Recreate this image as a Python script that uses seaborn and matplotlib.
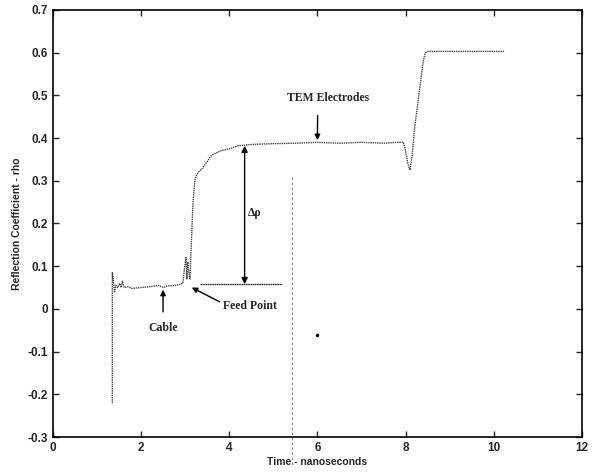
import matplotlib
matplotlib.use("Agg")
import matplotlib.pyplot as plt
import seaborn as sns
import pandas as pd

# ==========================
# Data
# ==========================

time_ns = [1.35, 1.35, 1.37, 1.40, 1.43, 1.47, 1.52, 1.55, 1.58, 1.62, 1.70,
           1.80, 2.00, 2.20, 2.40, 2.50, 2.60, 2.80, 2.90, 2.95, 2.98, 3.02,
           3.04, 3.06, 3.08, 3.11, 3.14, 3.18, 3.22, 3.25, 3.30, 3.40, 3.50,
           3.60, 3.80, 4.00, 4.20, 4.50, 5.00, 5.50, 6.00, 6.50, 7.00, 7.50,
           7.80, 7.95, 8.00, 8.05, 8.10, 8.15, 8.20, 8.30, 8.40, 8.45, 8.50,
           9.00, 9.50, 10.00, 10.25]
rho = [-0.22, 0.085, 0.07, 0.04, 0.055, 0.05, 0.06, 0.05, 0.065, 0.05, 0.052,
       0.048, 0.05, 0.052, 0.055, 0.05, 0.054, 0.055, 0.058, 0.06, 0.09, 0.12,
       0.07, 0.11, 0.09, 0.07, 0.15, 0.25, 0.30, 0.31, 0.32, 0.33, 0.345,
       0.36, 0.37, 0.375, 0.382, 0.385, 0.387, 0.388, 0.39, 0.388, 0.39, 0.388,
       0.39, 0.39, 0.37, 0.34, 0.325, 0.36, 0.42, 0.50, 0.58, 0.60, 0.603,
       0.603, 0.603, 0.603, 0.603]

feed_level = 0.058
feed_span = [3.33, 5.2]
electrode_level = 0.382
delta_x = 4.35

x_ticks = [0, 2, 4, 6, 8, 10, 12]
y_ticks = [-0.3, -0.2, -0.1, 0, 0.1, 0.2, 0.3, 0.4, 0.5, 0.6, 0.7]
y_tick_labels = ["-0.3", "-0.2", "-0.1", "0", "0.1", "0.2", "0.3", "0.4",
                 "0.5", "0.6", "0.7"]

df = pd.DataFrame({"t": time_ns, "rho": rho})

# ==========================
# Plot
# ==========================

sns.set_style("ticks")
plt.rcParams["font.family"] = ["Liberation Sans", "DejaVu Sans"]

fig = plt.figure(figsize=(6, 4.75), dpi=100)
ax = fig.add_axes([0.088, 0.08, 0.882, 0.899])

sns.lineplot(data=df, x="t", y="rho", ax=ax, color="#444444",
             linewidth=1.0, linestyle=(0, (1, 0.6)), sort=False,
             estimator=None, errorbar=None)

# feed point reference level
ax.plot(feed_span, [feed_level, feed_level], color="#333333", linewidth=1.0,
        linestyle=(0, (1, 0.3)))

# delta rho arrow
ax.annotate("", xy=(delta_x, electrode_level), xytext=(delta_x, feed_level),
            arrowprops=dict(arrowstyle="<|-|>", color="black", lw=1.0,
                            mutation_scale=9, shrinkA=0, shrinkB=0))

serif = dict(family="Liberation Serif", fontsize=8.5, fontweight="bold")

ax.text(4.58, 0.225, "Δρ", ha="center", va="center", **serif)

ax.annotate("TEM Electrodes", xy=(6.0, 0.395), xytext=(6.25, 0.494),
            ha="center", va="center",
            arrowprops=dict(arrowstyle="-|>", color="black", lw=1.0,
                            mutation_scale=8, shrinkA=6, shrinkB=0,
                            relpos=(0.37, 0)),
            **serif)

ax.annotate("Cable", xy=(2.5, 0.045), xytext=(2.5, -0.045),
            ha="center", va="center",
            arrowprops=dict(arrowstyle="-|>", color="black", lw=1.0,
                            mutation_scale=8, shrinkA=5, shrinkB=0),
            **serif)

ax.annotate("Feed Point", xy=(3.15, 0.05), xytext=(4.47, 0.007),
            ha="center", va="center",
            arrowprops=dict(arrowstyle="-|>", color="black", lw=1.0,
                            mutation_scale=8, shrinkA=0, shrinkB=0,
                            relpos=(0.0, 0.7)),
            **serif)

# faint scanner streak
ax.plot([5.42, 5.42], [0.31, -0.37], color="#666666", linewidth=0.6,
        linestyle=(0, (3, 3)), clip_on=False)
ax.plot([6.0], [-0.06], marker="o", markersize=1.5, color="black")

ax.set_xlim(0, 12)
ax.set_ylim(-0.3, 0.7)
ax.set_xticks(x_ticks)
ax.set_yticks(y_ticks)
ax.set_yticklabels(y_tick_labels)

ax.tick_params(direction="in", top=True, right=True, length=4, width=1,
               labelsize=8.5)
for lab in ax.get_xticklabels() + ax.get_yticklabels():
    lab.set_fontweight("bold")

for side in ax.spines.values():
    side.set_visible(True)
    side.set_linewidth(1.2)
    side.set_color("black")

ax.set_xlabel("Time - nanoseconds", fontsize=7.5, fontweight="bold",
              labelpad=2)
ax.set_ylabel("Reflection Coefficient - rho", fontsize=7.5,
              fontweight="bold", labelpad=4)

fig.savefig("out.png", dpi=100)
plt.close(fig)
